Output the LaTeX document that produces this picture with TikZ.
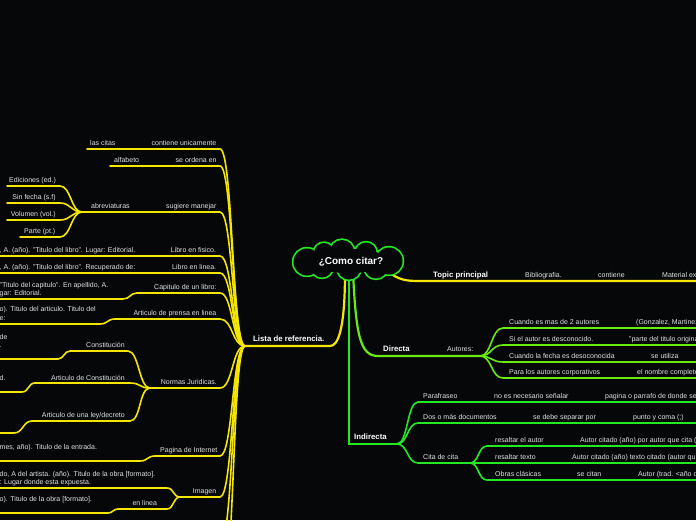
\documentclass[tikz,border=0pt]{standalone}
\usepackage{fontspec}
\setmainfont{Liberation Sans}
\definecolor{bgc}{RGB}{5,7,9}
\definecolor{ycol}{RGB}{245,230,0}
\definecolor{gcol}{RGB}{35,232,35}
\definecolor{lcol}{RGB}{105,235,15}
\definecolor{tcol}{RGB}{226,226,226}
\begin{document}
\begin{tikzpicture}[x=1pt,y=-1pt,
  yl/.style={draw=ycol,line width=1.6pt,line cap=round},
  ym/.style={draw=ycol,line width=2.2pt,line cap=round},
  gl/.style={draw=gcol,line width=1.6pt,line cap=round},
  gm/.style={draw=gcol,line width=2.2pt,line cap=round},
  ll/.style={draw=lcol,line width=1.6pt,line cap=round},
  lm/.style={draw=lcol,line width=2.2pt,line cap=round},
  lbl/.style={anchor=base west,inner sep=0pt,text=tcol,font=\fontsize{7}{8.5}\selectfont},
  mlbl/.style={lbl,align=left},
  blbl/.style={anchor=base west,inner sep=0pt,text=white,font=\fontsize{7.8}{9}\selectfont\bfseries},
  puffline/.style={draw=gcol,line width=3.4pt},
  pufffill/.style={fill=bgc}
]
\fill[bgc] (0,0) rectangle (696,520);
\useasboundingbox (0,0) rectangle (696,520);
\clip (0,0) rectangle (696,520);

% ---------- coordinates ----------
\coordinate (cs1) at (345,272);
\coordinate (cs2) at (349,272);
\coordinate (cs3) at (353,272);
\coordinate (ct) at (388,272);
% left tree
\coordinate (lista-l) at (245,346); \coordinate (lista-r) at (330,346);
\coordinate (c1-l) at (87,149);  \coordinate (c1-r) at (220,149);
\coordinate (c2-l) at (110,166); \coordinate (c2-r) at (220,166);
\coordinate (c3-l) at (82,212);  \coordinate (c3-r) at (220,212);
\coordinate (ed-l) at (7,186);   \coordinate (ed-r) at (60,186);
\coordinate (sf-l) at (7,203);   \coordinate (sf-r) at (60,203);
\coordinate (vo-l) at (7,220);   \coordinate (vo-r) at (60,220);
\coordinate (pt-l) at (20,237);  \coordinate (pt-r) at (60,237);
\coordinate (c4-l) at (-5,256);  \coordinate (c4-r) at (220,256);
\coordinate (c5-l) at (-5,273);  \coordinate (c5-r) at (220,273);
\coordinate (c6-l) at (137,293); \coordinate (c6-r) at (220,293);
\coordinate (c6a-l) at (-5,299); \coordinate (c6a-r) at (123,299);
\coordinate (c7-l) at (115,319); \coordinate (c7-r) at (220,319);
\coordinate (c7a-l) at (-5,324); \coordinate (c7a-r) at (100,324);
\coordinate (c8-l) at (150,388); \coordinate (c8-r) at (220,388);
\coordinate (n1-l) at (70,351);  \coordinate (n1-r) at (128,351);
\coordinate (n1a-l) at (-5,359); \coordinate (n1a-r) at (58,359);
\coordinate (n2-l) at (35,383);  \coordinate (n2-r) at (130,383);
\coordinate (n2a-l) at (-5,392); \coordinate (n2a-r) at (22,392);
\coordinate (n3-l) at (32,421);  \coordinate (n3-r) at (130,421);
\coordinate (n3a-l) at (-5,433); \coordinate (n3a-r) at (14,433);
\coordinate (c9-l) at (155,456); \coordinate (c9-r) at (220,456);
\coordinate (c9a-l) at (-5,461); \coordinate (c9a-r) at (140,461);
\coordinate (c10-l) at (180,497); \coordinate (c10-r) at (220,497);
\coordinate (i1-l) at (-5,488);  \coordinate (i1-r) at (167,488);
\coordinate (i2-l) at (118,509); \coordinate (i2-r) at (167,509);
\coordinate (i2a-l) at (-5,513); \coordinate (i2a-r) at (108,513);
\coordinate (c11-r) at (220,545);
\coordinate (c12-r) at (220,600);
% right tree
\coordinate (tp-l) at (420,281); \coordinate (tp-r) at (700,281);
\coordinate (dir-l) at (378,356); \coordinate (dir-r) at (480,356);
\coordinate (a1-l) at (503,328); \coordinate (a1-r) at (700,328);
\coordinate (a2-l) at (503,345); \coordinate (a2-r) at (700,345);
\coordinate (a3-l) at (503,362); \coordinate (a3-r) at (700,362);
\coordinate (a4-l) at (503,378); \coordinate (a4-r) at (700,378);
\coordinate (ind-c) at (349,444); \coordinate (ind-r) at (397,444);
\coordinate (p1-l) at (418,402); \coordinate (p1-r) at (700,402);
\coordinate (p2-l) at (418,423); \coordinate (p2-r) at (700,423);
\coordinate (p3-l) at (418,463); \coordinate (p3-r) at (470,463);
\coordinate (q1-l) at (487,446); \coordinate (q1-r) at (700,446);
\coordinate (q2-l) at (487,463); \coordinate (q2-r) at (700,463);
\coordinate (q3-l) at (487,480); \coordinate (q3-r) at (700,480);

% ---------- left tree lines ----------
\draw[ym] (lista-l) -- (lista-r) .. controls (338,346) and (345,330) .. (cs1);
\foreach \c in {c1,c2,c3,c4,c5,c6,c7,c8,c9,c10}{
  \draw[yl] (\c-l) -- (\c-r) .. controls +(13,0) and +(-13,0) .. (lista-l);
}
\draw[yl] (c11-r) .. controls +(13,0) and +(-13,0) .. (lista-l);
\draw[yl] (c12-r) .. controls +(15,0) and +(-13,0) .. (lista-l);
\foreach \c in {ed,sf,vo,pt}{
  \draw[yl] (\c-l) -- (\c-r) .. controls +(11,0) and +(-11,0) .. (c3-l);
}
\draw[yl] (c6a-l) -- (c6a-r) .. controls +(7,0) and +(-7,0) .. (c6-l);
\draw[yl] (c7a-l) -- (c7a-r) .. controls +(8,0) and +(-8,0) .. (c7-l);
\foreach \c in {n1,n2,n3}{
  \draw[yl] (\c-l) -- (\c-r) .. controls +(11,0) and +(-11,0) .. (c8-l);
}
\draw[yl] (n1a-l) -- (n1a-r) .. controls +(6,0) and +(-6,0) .. (n1-l);
\draw[yl] (n2a-l) -- (n2a-r) .. controls +(7,0) and +(-7,0) .. (n2-l);
\draw[yl] (n3a-l) -- (n3a-r) .. controls +(9,0) and +(-9,0) .. (n3-l);
\draw[yl] (c9a-l) -- (c9a-r) .. controls +(8,0) and +(-8,0) .. (c9-l);
\foreach \c in {i1,i2}{
  \draw[yl] (\c-l) -- (\c-r) .. controls +(7,0) and +(-7,0) .. (c10-l);
}
\draw[yl] (i2a-l) -- (i2a-r) .. controls +(5,0) and +(-5,0) .. (i2-l);

% ---------- right tree lines ----------
\draw[ym] (ct) .. controls (400,280) and (405,281) .. (tp-l) -- (tp-r);
\draw[lm] (cs3) .. controls (356,335) and (360,356) .. (dir-l) -- (dir-r);
\foreach \c in {a1,a2,a3,a4}{
  \draw[ll] (dir-r) .. controls +(12,0) and +(-12,0) .. (\c-l) -- (\c-r);
}
\draw[gm] (cs2) -- (ind-c) -- (ind-r);
\foreach \c in {p1,p2,p3}{
  \draw[gl] (ind-r) .. controls +(11,0) and +(-11,0) .. (\c-l) -- (\c-r);
}
\foreach \c in {q1,q2,q3}{
  \draw[gl] (p3-r) .. controls +(9,0) and +(-9,0) .. (\c-l) -- (\c-r);
}

% ---------- central cloud (union of puffs) ----------
\def\puffs{307/262/13.5, 324/253/10, 342/252/12, 366/253/10.5, 389/261/13.5, 376/267/11.5, 349/268/11.5, 322/267/10.5}
\foreach \px/\py/\pr in \puffs { \draw[puffline] (\px,\py) circle (\pr pt); }
\foreach \px/\py/\pr in \puffs { \fill[pufffill] (\px,\py) circle (\pr pt); }
\fill[pufffill] (349,261) ellipse (40pt and 12pt);
\node[text=white, inner sep=0pt, font=\fontsize{10}{12}\selectfont\bfseries] (cloud) at (351,262) {¿Como citar?};

% ---------- left texts ----------
\node[blbl] (tlista) at (253,341.5) {Lista de referencia.};
\node[lbl] (t-c1a) at (90,145.5) {las citas};
\node[lbl] (t-c1) at (151.5,145.5) {contiene unicamente};
\node[lbl] (t-c2a) at (114,162.5) {alfabeto};
\node[lbl] (t-c2) at (175.5,162.5) {se ordena en};
\node[lbl] (t-c3a) at (91,208.5) {abreviaturas};
\node[lbl] (t-c3) at (166,208.5) {sugiere manejar};
\node[lbl] (t-ed) at (9,182.5) {Ediciones (ed.)};
\node[lbl] (t-sf) at (12.3,199.5) {Sin fecha (s.f)};
\node[lbl] (t-vo) at (10.7,216.5) {Volumen (vol.)};
\node[lbl] (t-pt) at (24,233.5) {Parte (pt.)};
\node[lbl] (t-c4a) at (-0.5,252.5) {, A. (año). "Titulo del libro". Lugar: Editorial.};
\node[lbl] (t-c4) at (170.7,252.5) {Libro en fisico.};
\node[lbl] (t-c5a) at (-0.5,269.5) {, A. (año). "Titulo del libro". Recuperado de:};
\node[lbl] (t-c5) at (172,269.5) {Libro en linea.};
\node[mlbl] (t-c6a) at (-0.5,295.5) {"Titulo del capitulo". En apellido, A.\\gar: Editorial.};
\node[lbl] (t-c6) at (154,289.5) {Capitulo de un libro:};
\node[mlbl] (t-c7a) at (-0.5,320) {o). Titulo del articulo. Titulo del\\e:};
\node[lbl] (t-c7) at (133.3,315.5) {Articulo de prensa en linea};
\node[mlbl] (t-n1a) at (-0.5,347.5) {de\\.};
\node[lbl] (t-n1) at (86,347.5) {Constitución};
\node[lbl] (t-n2a) at (-0.5,380) {d.};
\node[lbl] (t-n2) at (51,380.5) {Articulo de Constitución};
\node[lbl] (t-n3) at (41.7,417.5) {Articulo de una ley/decreto};
\node[lbl] (t-c8) at (160.7,384.5) {Normas Juridicas.};
\node[lbl] (t-c9a) at (-0.5,449) {mes, año). Titulo de la entrada.};
\node[lbl] (t-c9) at (160,452.5) {Pagina de Internet};
\node[mlbl] (t-i1) at (-0.5,484.5) {do, A del artista. (año). Titulo de la obra [formato].\\: Lugar donde esta expuesta.};
\node[lbl] (t-c10) at (192.7,493.5) {Imagen};
\node[lbl] (t-i2) at (132.3,505.5) {en linea};
\node[lbl] (t-i2a) at (-0.5,501.5) {o). Titulo de la obra [formato].};

% ---------- right texts ----------
\node[blbl] (t-tp) at (433,277.5) {Topic principal};
\node[lbl] (t-tp1) at (525,277.5) {Bibliografia.};
\node[lbl] (t-tp2) at (598,277.5) {contiene};
\node[lbl] (t-tp3) at (662,277.5) {Material ex};
\node[blbl] (t-dir) at (383,351.5) {Directa};
\node[lbl] (t-aut) at (447,351.5) {Autores:};
\node[lbl] (t-a1) at (509,324.5) {Cuando es mas de 2 autores};
\node[lbl] (t-a1b) at (636,324.5) {(Gonzalez, Martinez};
\node[lbl] (t-a2) at (509,341.5) {Si el autor es desconocido.};
\node[lbl] (t-a2b) at (629,341.5) {"parte del titulo origina};
\node[lbl] (t-a3) at (509,358.5) {Cuando la fecha es desoconocida};
\node[lbl] (t-a3b) at (651,358.5) {se utiliza};
\node[lbl] (t-a4) at (509,374.5) {Para los autores corporativos};
\node[lbl] (t-a4b) at (637,374.5) {el nombre completo};
\node[blbl] (t-ind) at (354,439.5) {Indirecta};
\node[lbl] (t-p1) at (423,398.5) {Parafraseo};
\node[lbl] (t-p1b) at (494,398.5) {no es necesario señalar};
\node[lbl] (t-p1c) at (605,398.5) {pagina o parrafo de donde se};
\node[lbl] (t-p2) at (423,419.5) {Dos o más documentos};
\node[lbl] (t-p2b) at (533,419.5) {se debe separar por};
\node[lbl] (t-p2c) at (633,419.5) {punto y coma (;)};
\node[lbl] (t-p3) at (423,459.5) {Cita de cita};
\node[lbl] (t-q1) at (495,442.5) {resaltar el autor};
\node[lbl] (t-q1b) at (580,442.5) {Autor citado (año) por autor que cita (};
\node[lbl] (t-q2) at (495,459.5) {resaltar texto};
\node[lbl] (t-q2b) at (572,459.5) {Autor citado (año) texto citado (autor qu};
\node[lbl] (t-q3) at (495,476.5) {Obras clásicas};
\node[lbl] (t-q3b) at (577,476.5) {se citan};
\node[lbl] (t-q3c) at (638,476.5) {Autor (trad. <año d};
\end{tikzpicture}
\end{document}
